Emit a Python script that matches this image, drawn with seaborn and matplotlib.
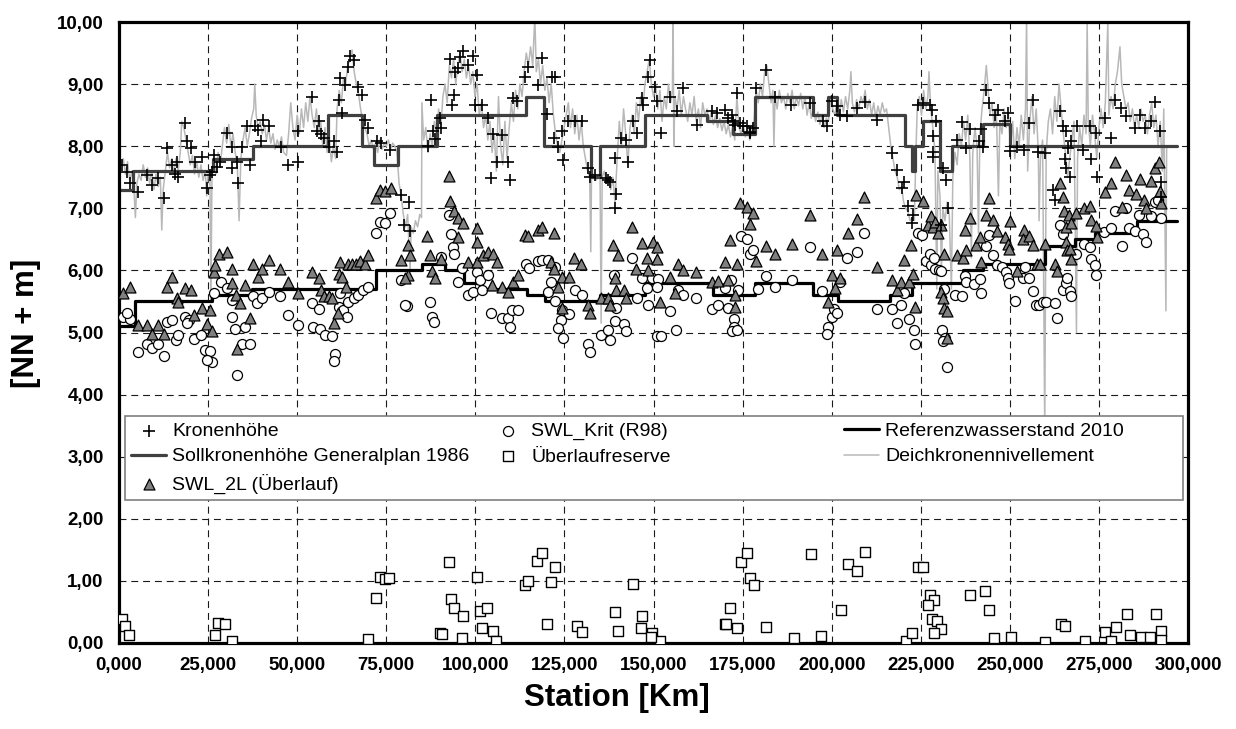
import matplotlib
matplotlib.use("Agg")
import matplotlib.pyplot as plt
import seaborn as sns
import numpy as np
from matplotlib.patches import Rectangle

# ---------------- data ----------------
# Kronenhöhe (+)
krone_km = [0.75, 2.15, 3.09, 5.24, 7.76, 9.17, 11.0, 12.7, 13.4, 14.8, 16.2, 15.7, 16.6, 18.5, 19.0, 20.2,
            21.3, 23.2, 24.6, 25.5, 26.0, 26.7, 27.4, 28.3, 30.2, 31.6, 31.6, 33.0, 33.3, 34.4, 35.8, 36.7,
            38.1, 39.1, 39.8, 40.5, 42.1, 45.6, 47.3, 50.1, 50.1,
            54.1, 55.5, 56.1, 56.7, 57.6, 58.8, 60.2, 61.1, 61.6, 62.7, 62.0, 63.4, 64.4, 64.8, 66.0, 67.2,
            68.1, 69.0, 70.0, 72.3, 73.5, 76.0, 79.1, 81.4, 80.1, 81.7, 86.8, 87.5, 88.2, 88.7, 90.1, 90.5,
            92.9, 93.4, 94.3, 94.1, 95.2, 96.6, 95.7, 98.0, 99.4, 100.4, 99.9,
            101.8, 103.6, 105.0, 107.4, 106.0, 109.3, 104.4, 109.7, 110.7, 111.6, 113.9, 114.9, 117.5, 118.6,
            121.4, 122.3, 120.0, 122.2, 123.1, 124.7, 124.4, 126.1, 128.0, 129.8, 131.7, 132.2, 133.6, 136.8,
            137.2, 137.8, 139.6, 139.2, 139.2, 141.0, 142.4, 142.9, 144.3, 145.5, 146.7, 147.1, 148.5, 149.0,
            150.4, 151.1,
            152.1, 154.6, 156.5, 158.3, 162.1, 166.3, 167.7, 170.0, 171.0, 171.9, 172.4, 172.9, 173.3, 174.2,
            175.2, 176.1, 177.0, 177.1, 178.0, 178.9, 181.7, 184.1, 188.7, 193.9, 197.6, 198.6, 200.0, 201.4,
            202.3, 204.2, 207.0, 209.3, 212.6, 217.0, 218.2, 220.3, 219.6, 221.3, 222.9, 222.6, 224.3, 225.7,
            227.5, 228.2, 229.4, 228.5, 228.5, 228.5, 231.3, 232.0, 232.7, 230.8, 236.6, 238.8, 235.2, 237.8,
            241.3, 241.8, 242.5, 243.2, 244.1, 245.8, 246.7, 248.6, 249.5, 250.0, 251.9,
            253.9, 255.4, 256.4, 257.9, 259.8, 264.0, 264.8, 265.7, 266.4, 265.4, 265.9, 266.8, 267.3, 268.9,
            270.4, 272.4, 272.9, 274.1, 274.5, 276.6, 278.5, 279.5, 281.3, 282.7, 285.1, 286.5, 287.9, 289.7,
            290.7, 292.1, 262.2, 262.6, 292.5, 292.5]
krone_val = [7.70, 7.59, 7.40, 7.27, 7.54, 7.37, 7.49, 7.17, 7.97, 7.70, 7.75, 7.56, 7.51, 8.37, 8.08, 7.97,
             7.75, 7.83, 7.33, 7.54, 7.59, 7.86, 7.67, 7.75, 8.21, 7.99, 7.65, 7.75, 7.40, 7.99, 8.32, 7.70,
             8.32, 8.26, 8.09, 8.42, 8.32, 7.99, 7.69, 8.24, 7.75,
             8.80, 8.24, 8.41, 8.19, 8.13, 7.99, 8.08, 7.91, 8.75, 8.53, 9.10, 8.99, 9.28, 9.45, 9.39, 8.96,
             8.83, 8.42, 8.29, 8.08, 8.05, 7.94, 7.21, 7.10, 6.73, 6.63, 8.01, 8.75, 8.24, 8.12, 8.45, 8.30,
             9.40, 8.67, 9.20, 8.83, 9.26, 9.54, 9.43, 9.31, 9.45, 9.15, 8.67,
             8.67, 8.45, 8.19, 8.18, 7.75, 7.75, 7.48, 7.46, 8.77, 8.73, 9.12, 9.27, 8.98, 9.42,
             9.12, 9.11, 8.52, 8.13, 7.99, 7.78, 8.24, 8.41, 8.41, 8.40, 7.65, 7.51, 7.54, 7.49,
             7.46, 7.43, 7.23, 7.01, 7.81, 8.13, 8.10, 7.75, 8.41, 8.21, 8.77, 8.67, 9.12, 9.39,
             8.96, 8.73,
             8.21, 8.80, 8.56, 8.94, 8.34, 8.56, 8.53, 8.59, 8.45, 8.51, 8.40, 8.34, 8.85, 8.37,
             8.32, 8.33, 8.21, 8.23, 8.29, 8.94, 9.23, 8.80, 8.67, 8.69, 8.41, 8.32, 8.72, 8.64,
             8.51, 8.48, 8.61, 8.71, 8.42, 7.89, 7.62, 7.43, 7.33, 7.03, 6.89, 6.76, 8.67, 8.69,
             8.67, 8.59, 8.40, 8.16, 7.91, 7.83, 7.65, 7.45, 7.00, 6.73, 8.39, 8.27, 8.10, 7.97,
             8.08, 8.27, 7.98, 8.91, 8.69, 8.51, 8.59, 8.41, 8.53, 7.92, 7.99,
             7.94, 8.37, 8.75, 7.91, 7.89, 8.57, 8.32, 8.24, 7.97, 7.80, 7.65, 7.51, 8.09, 8.32,
             7.94, 8.32, 7.80, 8.21, 7.51, 8.45, 8.14, 8.75, 8.61, 8.48, 8.29, 8.51, 8.29, 8.41,
             8.71, 8.24, 7.30, 7.13, 7.43, 7.19]

# SWL_Krit (R98) (o)
krit_km = [1.2, 3.1, 2.2, 5.2, 7.8, 9.2, 11.0, 12.7, 13.4, 14.8, 15.9, 16.6, 18.5, 19.6, 19.0, 21.1, 23.0,
           24.1, 25.5, 26.0, 24.6, 26.7, 28.6, 30.2, 31.6, 31.6, 32.5, 34.4, 35.3, 36.7, 33.0, 37.7, 38.6,
           40.0, 42.1, 45.2, 47.3, 50.1,
           54.5, 56.4, 57.8, 59.7, 60.6, 60.2, 54.1, 56.1, 62.0, 61.6, 63.0, 63.9, 64.4, 66.0, 67.2, 68.6,
           70.0, 72.0, 73.2, 74.6, 76.0, 79.1, 80.7, 80.4, 87.3, 87.7, 88.5, 90.4, 92.6, 93.2, 93.8, 94.1,
           95.2, 96.3, 98.0, 99.4,
           100.4, 101.3, 102.0, 103.6, 104.4, 107.4, 109.1, 109.7, 110.4, 111.9, 114.1, 115.0, 117.5, 118.6,
           120.3, 122.3, 121.2, 120.3, 122.3, 124.4, 126.3, 124.0, 123.3, 124.7, 128.0, 129.8, 131.7, 132.2,
           135.4, 137.3, 137.8, 139.2, 139.6, 141.8, 142.4, 139.0, 144.0, 145.5, 146.7, 148.1, 148.5, 149.5,
           151.1,
           151.3, 150.9, 152.1, 154.6, 156.2, 156.9, 158.3, 161.8, 166.5, 168.0, 170.2, 170.8, 171.7, 172.7,
           172.7, 172.1, 173.3, 173.6, 174.5, 176.1, 177.0, 178.0, 179.2, 181.7, 184.2, 188.9, 193.9, 197.3,
           199.0, 198.8, 200.0, 200.7, 201.6,
           202.3, 204.2, 207.0, 209.1, 212.6, 217.0, 218.2, 219.4, 220.3, 221.7, 223.2, 223.3, 224.1, 225.4,
           226.6, 227.5, 228.0, 228.8, 228.9, 230.1, 230.8, 231.6, 231.0, 231.8, 231.3, 232.5, 234.7, 236.7,
           237.4, 237.8, 240.0, 241.6, 242.0, 243.4, 244.1, 245.3, 246.5, 247.7, 248.8, 249.5, 249.7, 251.4,
           253.6, 255.4, 254.2, 256.4, 257.3, 258.2, 259.4, 260.1, 262.6, 263.1, 264.0, 264.8, 265.0, 265.7,
           266.1, 266.8, 267.3, 268.7, 270.8, 272.4, 272.9, 273.8, 274.3, 276.4, 278.5, 279.5, 281.6, 282.7,
           283.5, 285.1, 286.3, 287.4, 288.3, 289.7, 290.7, 291.6, 292.3]
krit_val = [5.25, 5.22, 5.31, 4.69, 4.82, 4.75, 4.82, 4.62, 5.17, 5.20, 4.88, 4.96, 5.25, 5.20, 5.15, 4.90, 4.96,
            4.72, 4.70, 4.53, 4.55, 5.63, 5.82, 5.72, 5.52, 5.25, 5.06, 4.82, 5.09, 4.82, 4.32, 5.58, 5.47,
            5.55, 5.65, 5.59, 5.28, 5.12,
            5.09, 5.06, 4.96, 4.95, 4.65, 4.54, 5.47, 5.38, 5.63, 5.41, 5.36, 5.25, 5.49, 5.55, 5.60, 5.68,
            5.74, 6.60, 6.78, 6.77, 6.92, 5.84, 5.43, 5.45, 5.49, 5.25, 5.17, 6.22, 6.90, 6.58, 6.38, 6.26,
            5.82, 6.04, 5.60, 5.66,
            5.98, 5.84, 5.68, 5.92, 5.32, 5.23, 5.23, 5.09, 5.36, 5.36, 6.11, 6.04, 6.15, 6.17,
            6.17, 6.06, 5.82, 5.65, 5.51, 5.36, 5.29, 5.20, 5.08, 4.91, 5.68, 5.60, 4.82, 4.68,
            4.96, 5.04, 4.88, 5.18, 5.39, 5.13, 5.02, 5.92, 6.20, 5.55, 5.87, 5.71, 5.44, 5.87,
            4.95,
            5.86, 5.74, 4.95, 5.34, 5.04, 5.68, 5.60, 5.56, 5.38, 5.45, 5.71, 5.40, 5.84, 5.22,
            5.09, 5.02, 5.04, 5.68, 6.56, 6.51, 6.26, 6.33, 5.70, 5.91, 5.74, 5.84, 6.38, 5.67,
            5.09, 4.98, 5.25, 5.38, 5.31,
            5.82, 6.20, 6.30, 6.61, 5.38, 5.38, 5.15, 5.45, 5.63, 5.22, 5.04, 4.82, 6.61, 6.57,
            6.15, 6.27, 6.09, 6.20, 6.03, 6.01, 5.99, 5.70, 5.04, 4.91, 4.86, 4.45, 5.60, 5.58,
            5.91, 5.82, 5.78, 5.86, 5.63, 6.40, 6.57, 6.25, 6.09, 6.06, 5.98, 5.87, 5.79, 5.51,
            5.87, 5.87, 6.06, 5.67, 5.45, 5.45, 5.49, 5.49, 5.47, 5.24, 6.73, 6.58, 5.68, 5.79,
            5.87, 5.67, 5.58, 6.26, 6.42, 6.37, 6.19, 6.08, 5.92, 6.62, 6.68, 6.95, 6.40, 7.00,
            6.68, 6.63, 6.89, 6.59, 6.46, 6.87, 7.10, 7.14, 6.85]

# SWL_2L (Überlauf) (triangles)
swl2l_km = [1.2, 3.1, 5.2, 7.8, 9.2, 11.0, 12.7, 13.4, 14.8, 16.2, 16.6, 18.5, 20.2, 21.1, 23.4, 24.6, 25.5,
            26.0, 26.7, 26.9, 28.1, 30.2, 31.6, 31.6, 32.7, 34.0, 35.3, 36.7, 33.0, 37.7, 38.9, 40.0, 42.1,
            45.2, 47.3, 50.1,
            54.1, 56.1, 56.7, 57.6, 58.8, 59.7, 60.4, 61.4, 61.6, 62.7, 63.6, 62.0, 64.4, 65.5, 66.4, 67.6,
            69.0, 70.0, 72.0, 73.2, 74.6, 76.3, 79.1, 81.2, 81.7, 81.0, 80.4, 86.3, 87.3, 87.9, 88.7, 90.5,
            92.6, 92.9, 94.1, 95.2, 96.6, 95.2, 98.0, 100.4, 100.6,
            100.4, 102.2, 103.6, 105.0, 106.0, 104.6, 107.4, 109.3, 110.7, 112.1, 113.9, 114.9, 117.7, 118.6,
            122.2, 121.2, 122.2, 124.4, 126.3, 123.3, 124.4, 127.8, 129.6, 131.7, 132.2, 135.2, 137.3, 137.8,
            139.2, 139.6, 141.8, 142.4, 138.7, 139.9, 144.0, 145.2, 146.7, 148.3, 148.5, 149.9, 150.9, 151.1,
            151.8, 154.6, 156.8, 158.3, 161.8, 156.0, 166.3, 168.0, 170.2, 170.8, 171.4, 172.8, 172.8, 173.3,
            174.2, 176.1, 178.0, 177.0, 178.9, 181.7, 184.2, 188.9, 193.9, 197.2, 200.0, 199.0, 200.9, 201.6,
            202.3, 204.5, 207.0, 209.1, 212.6, 217.0, 218.2, 219.4, 220.3, 221.7, 222.9, 223.3, 222.4, 223.8,
            225.7, 227.1, 228.0, 228.5, 228.9, 229.9, 230.8, 231.6, 230.8, 231.3, 231.6, 232.5, 232.5, 235.2,
            236.9, 237.8, 237.4, 238.8, 240.6, 242.0, 241.6, 243.2, 244.1, 245.3, 246.5, 248.6, 249.5, 250.0,
            249.7, 251.9,
            253.9, 253.6, 255.4, 256.4, 257.5, 258.6, 259.8, 262.6, 263.1, 264.0, 264.8, 265.1, 265.9, 266.6,
            267.3, 265.7, 266.1, 266.8, 267.3, 268.7, 270.8, 272.4, 272.9, 274.1, 274.5, 276.6, 278.5, 279.5,
            281.6, 282.7, 283.5, 285.3, 286.5, 287.6, 288.3, 289.7, 290.7, 291.9, 292.1, 292.3]
swl2l_val = [5.63, 5.74, 5.12, 5.12, 4.98, 5.12, 4.97, 5.74, 5.90, 5.55, 5.49, 5.71, 5.68, 5.28, 5.39, 5.13, 5.36,
             5.02, 5.98, 6.09, 6.27, 6.30, 6.02, 5.79, 5.60, 5.47, 5.77, 5.24, 4.74, 6.11, 5.90, 6.03, 6.17,
             6.03, 5.81, 5.63,
             5.98, 5.87, 5.68, 5.58, 5.58, 5.55, 5.15, 5.31, 5.95, 5.90, 5.74, 6.14, 6.11, 6.10, 6.11, 6.15,
             6.11, 6.24, 7.16, 7.30, 7.28, 7.33, 6.17, 6.41, 6.24, 5.92, 5.88, 6.56, 6.25, 5.99, 5.87, 6.19,
             7.52, 7.12, 6.95, 6.84, 6.77, 6.54, 6.14, 6.68, 6.46,
             6.14, 6.25, 6.30, 6.27, 6.14, 5.77, 5.74, 5.66, 5.82, 5.92, 6.57, 6.55, 6.65, 6.70,
             6.60, 6.14, 6.02, 5.90, 5.90, 5.74, 5.40, 6.20, 6.11, 5.44, 5.31, 5.56, 5.55, 5.44,
             5.87, 5.68, 5.68, 5.55, 6.41, 6.24, 6.70, 6.03, 6.44, 6.20, 6.01, 6.46, 6.19, 6.37,
             5.49, 5.90, 6.11, 6.01, 5.98, 5.63, 5.82, 5.83, 6.14, 5.84, 6.49, 5.60, 5.41, 6.10,
             7.08, 7.02, 6.92, 6.74, 6.15, 6.40, 6.27, 6.42, 6.90, 6.27, 5.92, 5.49, 5.71, 6.33,
             5.87, 6.60, 6.83, 7.19, 6.06, 5.84, 5.68, 5.82, 6.17, 5.82, 5.95, 5.41, 6.41, 7.22,
             7.12, 6.73, 6.87, 6.70, 6.78, 6.60, 6.73, 6.27, 5.65, 5.56, 5.40, 5.34, 4.91, 6.25,
             6.20, 6.33, 6.65, 6.85, 6.41, 6.14, 6.54, 6.90, 7.17, 6.81, 6.63, 6.53, 6.42, 6.79,
             6.35, 5.99,
             6.65, 6.51, 6.56, 6.41, 6.11, 6.11, 6.42, 6.11, 5.99, 7.40, 7.19, 6.95, 6.70, 6.90,
             6.76, 6.46, 6.33, 6.35, 6.18, 6.93, 7.00, 7.04, 6.81, 6.72, 6.54, 7.26, 7.40, 7.75,
             7.02, 7.54, 7.29, 7.23, 7.47, 7.13, 7.01, 7.44, 7.65, 7.74, 7.28, 7.08]

# Überlaufreserve (squares)
reserve_km = [0.8, 1.8, 2.75, 26.9, 27.9, 29.8, 31.8, 70.0, 72.0, 73.3, 74.7, 75.9, 90.2, 90.7, 92.7, 93.3,
              94.0, 96.5, 96.2, 100.4, 101.4, 103.3, 102.0, 104.9, 105.8, 114.0, 114.9, 117.4, 118.8, 122.3,
              121.1, 120.1, 128.5, 129.8, 139.1, 140.1, 144.3, 146.8, 146.4, 149.7, 151.7, 149.3, 170.0, 170.4,
              171.6, 173.5, 174.5, 176.2, 177.2, 178.2, 181.6, 189.4, 194.2, 197.1, 202.5, 204.5, 207.2, 209.3,
              220.9, 222.6, 224.2, 225.5, 227.5, 228.6, 227.1, 228.1, 229.6, 230.6, 228.6, 238.7, 243.1, 244.1,
              245.5, 250.3, 260.0, 264.4, 265.4, 271.2, 276.8, 278.3, 279.7, 282.8, 283.8, 286.7, 289.4, 290.9,
              292.3, 292.5]
reserve_val = [0.38, 0.28, 0.135, 0.135, 0.32, 0.31, 0.03, 0.065, 0.73, 1.07, 1.03, 1.04, 0.16, 0.15, 1.30, 0.71,
               0.57, 0.43, 0.08, 1.07, 0.51, 0.57, 0.24, 0.19, 0.04, 0.93, 1.00, 1.32, 1.45, 1.22,
               0.98, 0.31, 0.28, 0.17, 0.50, 0.20, 0.95, 0.43, 0.24, 0.16, 0.03, 0.10, 0.31, 0.30,
               0.57, 0.24, 1.31, 1.45, 1.04, 0.93, 0.26, 0.08, 1.43, 0.12, 0.53, 1.27, 1.16, 1.46,
               0.03, 0.16, 1.23, 1.23, 0.77, 0.69, 0.61, 0.38, 0.36, 0.22, 0.16, 0.77, 0.84, 0.53,
               0.08, 0.10, 0.01, 0.30, 0.27, 0.03, 0.17, 0.03, 0.26, 0.47, 0.135, 0.10, 0.10, 0.47,
               0.19, 0.05]

# Sollkronenhöhe Generalplan 1986 (step starts)
soll_km = [0, 3.9, 26.4, 37.6, 58.7, 68.2, 71.6, 78.3, 89.2, 114.2, 119.3, 132.5, 135.0, 147.6, 165.0,
           172.3, 178.5, 194.8, 199.0, 201.5, 220.6, 222.6, 223.5, 225.7, 230.5, 233.8, 242.5, 250.0, 296.9]
soll_val = [7.3, 7.6, 7.8, 8.0, 8.5, 8.0, 7.7, 8.0, 8.5, 8.8, 8.0, 7.5, 8.0, 8.5, 8.4,
            8.2, 8.8, 8.5, 8.8, 8.5, 8.0, 7.6, 8.0, 8.4, 7.6, 8.0, 8.35, 8.0, 8.0]

# Referenzwasserstand 2010 (step starts)
ref_km = [0, 4.5, 26.0, 37.3, 72.0, 85.1, 91.6, 96.7, 101.6, 114.5, 119.6, 135.0, 147.6, 166.7, 178.5,
          194.8, 201.8, 216.4, 222.6, 236.9, 242.5, 259.9, 268.3, 273.9, 285.7, 296.9]
ref_val = [5.1, 5.5, 5.6, 5.7, 6.0, 6.1, 6.0, 5.8, 5.7, 5.6, 5.5, 5.6, 5.8, 5.6, 5.8,
           5.6, 5.5, 5.6, 5.8, 6.0, 6.1, 6.4, 6.5, 6.6, 6.8, 6.8]

# Deichkronennivellement (thin grey line)
deich_km = [0.0, 0.6, 1.2, 1.8, 2.4, 3.0, 3.6, 4.2, 4.6, 5.0, 5.6, 6.2, 6.8, 7.4, 8.0, 8.6, 9.2, 9.8, 10.4,
            11.0, 11.6, 12.0, 12.4, 13.0, 13.6, 14.2, 14.8, 15.4, 16.0, 16.6, 17.2, 17.6, 18.2, 18.8, 19.4,
            20.0, 20.6, 21.2, 21.8, 22.4, 23.0, 23.6, 24.2, 24.6, 25.0, 25.5, 25.8, 26.1, 26.6, 27.2, 27.8,
            28.4, 29.0, 29.6, 30.2, 30.8, 31.4, 32.0, 32.6, 33.2, 33.7, 34.2, 34.8, 35.4, 36.0, 36.6, 37.2,
            37.8, 38.1, 38.5, 39.0, 39.6, 40.2, 40.8, 41.4, 42.0, 42.6, 43.2, 43.8, 44.4, 45.0, 45.6, 46.2,
            47.0, 47.6, 48.2, 48.8, 49.4, 50.0, 50.6, 51.2, 51.8, 52.4, 53.0, 53.6, 54.2, 54.8, 55.4, 56.0,
            56.6, 57.2, 57.8, 58.4, 59.0, 59.6, 60.2, 60.8, 61.2, 61.8, 62.4, 63.0, 63.6, 64.2, 64.8, 65.4,
            66.0, 66.6, 67.2, 67.8, 68.4, 69.0, 69.6, 70.2, 70.8, 71.4, 72.0, 72.6, 73.2, 73.8, 74.4, 75.0,
            75.6, 76.2, 76.8, 77.4, 78.0, 78.6, 79.2, 79.8, 80.4, 81.0, 81.7, 82.0, 82.6, 83.2, 83.8, 84.4,
            84.9, 85.0, 85.5, 86.1, 86.7, 87.3, 87.9, 88.5, 89.1, 89.7, 90.3, 90.9, 91.5, 92.1, 92.7, 93.3,
            93.9, 94.5, 95.1, 95.7, 96.3, 96.9, 97.5, 98.1, 98.7, 99.3, 99.9, 100.5, 101.1, 101.7, 102.3,
            102.9, 103.5, 104.1, 104.7, 105.3, 105.9, 106.5, 107.1, 107.7, 108.3, 108.9, 109.5, 110.1, 110.7,
            111.3, 111.9, 112.5, 113.1, 113.7, 114.3, 114.9, 115.5, 116.1, 116.7, 117.1, 117.7, 118.3, 118.9,
            119.5, 120.1, 120.7, 121.3, 121.9, 122.5, 123.1, 123.7, 124.3, 124.9, 125.5, 126.1, 126.7, 127.3,
            127.9, 128.5, 129.1, 129.7, 130.3, 130.9, 131.5, 132.1, 132.4, 132.6, 133.2, 133.8, 134.4, 135.0,
            135.3, 135.6, 136.2, 136.8, 137.4, 138.0, 138.6, 139.2, 139.8, 140.4, 141.0, 141.6, 142.2, 142.8,
            143.4, 144.0, 144.6, 145.2, 145.8, 146.4, 147.0, 147.6, 148.2, 148.8, 149.4, 150.0, 150.6, 151.2,
            151.8, 152.4, 153.0, 153.6, 154.2, 154.8, 155.3, 155.5, 155.7, 156.0, 156.6, 157.2, 157.8, 158.4,
            159.0, 159.6, 160.2, 160.8, 161.4, 162.0, 162.6, 163.2, 163.8, 164.4, 165.0, 165.6, 166.2, 166.8,
            167.4, 168.0, 168.6, 169.2, 169.8, 170.4, 171.0, 171.6, 172.2, 172.8, 173.4, 174.0, 174.6, 175.2,
            175.8, 176.4, 177.0, 177.6, 178.2, 178.8, 179.4, 180.0, 180.6, 181.2, 181.8, 182.4, 183.0, 183.5,
            183.8, 184.1, 184.7, 185.3, 185.9, 186.5, 187.1, 187.7, 188.3, 188.9, 189.5, 190.1, 190.7, 191.3,
            191.9, 192.5, 193.1, 193.7, 194.3, 194.9, 195.5, 196.1, 196.7, 197.3, 197.9, 198.5, 199.1, 199.7,
            200.3, 200.9, 201.5, 202.1, 202.7, 203.3, 203.9, 204.5, 205.1, 205.4, 205.8, 206.4, 207.0, 207.6,
            208.2, 208.8, 209.4, 210.0, 210.6, 211.2, 211.8, 212.4, 213.0, 213.6, 214.2, 214.8, 215.4, 216.0,
            216.6, 217.2, 217.8, 218.4, 219.0, 219.6, 220.2, 220.8, 221.4, 222.0, 222.6, 223.2, 223.6, 224.0,
            224.6, 225.2, 225.8, 226.4, 227.0, 227.3, 227.8, 228.4, 229.0, 229.5, 229.8, 230.4, 230.8, 231.2,
            231.8, 232.4, 233.0, 233.6, 234.0, 234.6, 235.2, 235.8, 236.4, 237.0, 237.6, 238.2, 238.8, 239.2,
            239.6, 240.2, 240.8, 241.2, 241.6, 242.2, 242.8, 243.4, 243.8, 244.4, 245.0, 245.6, 246.2, 246.8,
            247.2, 247.8, 248.4, 249.0, 249.6, 250.2, 250.8, 251.4, 252.0, 252.6, 253.2, 253.8, 254.4, 254.7,
            255.0, 255.6, 256.2, 256.8, 257.4, 258.0, 258.2, 258.6, 259.2, 259.8, 260.2, 260.8, 261.4, 262.0,
            262.6, 263.2, 263.8, 264.4, 265.0, 265.6, 266.2, 266.8, 267.4, 268.0, 268.7, 269.0, 269.6, 270.2,
            270.8, 271.4, 271.7, 272.0, 272.6, 273.2, 273.8, 274.4, 275.0, 275.6, 276.2, 276.8, 277.5, 277.8,
            278.4, 279.0, 279.6, 280.2, 280.9, 281.4, 282.0, 282.6, 283.2, 283.8, 284.4, 285.0, 285.6, 286.2,
            286.8, 287.4, 288.0, 288.6, 289.2, 289.8, 290.4, 291.0, 291.6, 292.2, 292.8, 293.2, 293.8, 294.0]
deich_val = [7.85, 7.7, 7.8, 7.55, 7.75, 7.45, 7.6, 7.3, 6.85, 7.4, 7.55, 7.45, 7.7, 7.5, 7.65, 7.4, 7.6, 7.3, 7.55,
             7.35, 7.5, 6.65, 7.3, 7.6, 7.9, 7.65, 7.8, 7.55, 7.8, 7.6, 7.9, 8.4, 8.3, 8.1, 7.9,
             7.7, 7.85, 7.55, 7.75, 7.5, 7.7, 7.45, 7.6, 7.2, 7.55, 7.6, 5.5, 7.6, 7.8, 7.55, 7.9,
             7.7, 8.0, 8.3, 8.05, 8.35, 8.0, 8.2, 7.9, 7.7, 6.8, 7.8, 8.1, 8.3, 8.0, 8.2, 8.45,
             8.6, 9.0, 8.5, 8.3, 8.4, 8.2, 8.35, 8.1, 8.3, 8.05, 8.2, 7.95, 8.1, 8.0, 8.15, 7.9,
             7.85, 8.2, 8.7, 8.3, 8.1, 8.5, 8.2, 8.6, 8.3, 8.7, 8.4, 8.8, 8.5, 8.3, 8.6, 8.2,
             8.4, 8.0, 8.3, 7.9, 8.1, 7.75, 8.0, 7.8, 8.6, 8.9, 8.7, 9.1, 9.0, 9.3, 9.4, 9.55,
             9.2, 9.0, 8.85, 8.6, 8.4, 8.3, 8.2, 8.0, 8.1, 7.95, 8.05, 7.9, 8.1, 7.95, 8.05, 8.0,
             8.1, 7.95, 8.05, 8.0, 7.9, 7.4, 7.2, 6.9, 6.7, 6.9, 6.0, 6.7, 6.6, 6.8, 6.7, 6.9,
             6.85, 8.7, 8.1, 8.3, 7.9, 8.2, 8.0, 8.4, 8.2, 8.6, 8.3, 8.8, 9.0, 8.7, 9.3, 9.1,
             9.4, 9.0, 9.3, 9.5, 9.2, 9.4, 9.1, 9.3, 9.0, 9.2, 8.8, 9.0, 8.5, 8.7, 8.3,
             8.5, 8.1, 8.4, 7.9, 8.2, 7.6, 8.8, 8.0, 7.7, 8.4, 7.8, 8.3, 8.7, 8.4,
             8.9, 8.6, 9.0, 8.8, 9.2, 9.5, 9.3, 9.6, 9.3, 10.1, 9.2, 9.4, 9.0, 9.3,
             8.9, 9.1, 8.7, 9.0, 8.5, 8.2, 8.0, 7.9, 8.1, 8.3, 8.5, 8.7, 8.3, 8.6,
             8.2, 8.5, 8.1, 8.4, 8.0, 7.8, 7.6, 7.5, 6.3, 7.5, 7.55, 7.45, 7.5, 7.55,
             5.15, 7.5, 7.6, 7.4, 7.5, 7.3, 7.5, 7.1, 7.8, 8.4, 8.0, 8.6, 8.2, 7.7,
             8.3, 8.5, 8.2, 8.7, 8.4, 8.8, 8.6, 9.0, 9.2, 9.4, 9.0, 8.8, 9.0, 8.6,
             8.9, 8.4, 8.8, 8.6, 9.0, 8.7, 8.9, 10.1, 8.0, 8.8, 8.6, 8.9, 8.5, 8.8,
             8.6, 8.4, 8.7, 8.5, 8.8, 8.4, 8.6, 8.3, 8.7, 8.5, 8.6, 8.4, 8.55, 8.35,
             8.5, 8.3, 8.45, 8.25, 8.4, 8.2, 8.35, 8.15, 8.3, 8.1, 8.8, 8.3, 8.2, 8.35,
             8.15, 8.3, 8.1, 8.25, 8.4, 8.9, 8.7, 9.0, 8.8, 9.2, 9.3, 9.0, 8.7, 8.9,
             8.0, 8.8, 8.6, 8.9, 8.7, 8.8, 8.6, 8.85, 8.7, 8.9, 8.6, 8.8, 8.65, 8.85,
             8.6, 8.8, 8.5, 8.7, 8.45, 8.6, 8.4, 8.55, 8.35, 8.5, 8.3, 8.45, 8.4, 8.8,
             8.6, 8.5, 8.7, 8.5, 8.75, 8.55, 8.8, 8.6, 8.9, 9.2, 8.7, 8.55, 8.75, 8.6,
             8.8, 8.7, 8.9, 8.6, 8.75, 8.5, 8.7, 8.45, 8.65, 8.5, 8.7, 8.55, 8.6, 8.3,
             8.0, 7.8, 7.6, 7.5, 7.3, 7.35, 7.1, 7.0, 6.95, 6.8, 6.85, 6.8, 7.8, 8.6,
             8.8, 8.5, 8.9, 8.6, 8.8, 9.2, 8.6, 8.3, 7.9, 5.7, 7.6, 7.2, 6.0, 7.0,
             6.8, 7.1, 6.9, 5.7, 7.5, 7.9, 7.7, 8.2, 8.0, 8.4, 8.1, 8.5, 7.8, 6.2,
             7.9, 8.3, 8.0, 6.6, 8.2, 8.6, 8.9, 9.3, 9.0, 8.5, 8.7, 8.3, 8.6, 7.2,
             8.4, 8.2, 8.6, 8.3, 8.5, 8.0, 8.4, 7.8, 8.3, 8.0, 8.5, 8.1, 8.6, 10.1,
             7.6, 8.4, 8.8, 8.2, 8.6, 7.9, 6.8, 7.8, 8.1, 3.4, 7.9, 8.4, 8.6, 8.2,
             8.8, 8.4, 9.0, 8.6, 8.2, 7.9, 7.5, 7.8, 8.1, 8.4, 5.0, 7.8, 8.3, 8.0,
             8.5, 8.2, 10.0, 8.4, 8.0, 8.5, 8.2, 7.8, 8.3, 8.6, 8.3, 8.7, 10.0, 8.5,
             8.8, 8.6, 9.0, 9.2, 9.6, 9.0, 8.8, 8.6, 8.7, 8.4, 8.6, 8.3, 8.5, 8.3,
             8.6, 8.4, 8.5, 8.2, 8.5, 8.7, 8.3, 8.5, 8.0, 8.4, 7.6, 8.6, 5.35, 8.0]

x_ticks = [0, 25, 50, 75, 100, 125, 150, 175, 200, 225, 250, 275, 300]
y_ticks = [0, 1, 2, 3, 4, 5, 6, 7, 8, 9, 10]
x_tick_labels = ["0,000", "25,000", "50,000", "75,000", "100,000", "125,000", "150,000",
                 "175,000", "200,000", "225,000", "250,000", "275,000", "300,000"]
y_tick_labels = ["0,00", "1,00", "2,00", "3,00", "4,00", "5,00", "6,00", "7,00", "8,00", "9,00", "10,00"]

# ---------------- style ----------------
sns.set_theme(style="white")
plt.rcParams['font.family'] = ['Liberation Sans', 'DejaVu Sans']
plt.rcParams['lines.scale_dashes'] = False

W, H = 1236, 729
fig = plt.figure(figsize=(W / 100, H / 100), dpi=100)
L, R, T, B = 119, 1188, 22, 643
ax = fig.add_axes([L / W, 1 - B / H, (R - L) / W, (B - T) / H])

lab_krone = "Kronenhöhe"
lab_soll = "Sollkronenhöhe Generalplan 1986"
lab_2l = "SWL_2L (Überlauf)"
lab_krit = "SWL_Krit (R98)"
lab_res = "Überlaufreserve"
lab_ref = "Referenzwasserstand 2010"
lab_deich = "Deichkronennivellement"

sns.lineplot(x=deich_km, y=deich_val, ax=ax, color="#b8b8b8", linewidth=1.1,
             estimator=None, sort=False, label=lab_deich, zorder=1)
sns.lineplot(x=soll_km, y=soll_val, ax=ax, color="#404040", linewidth=2.3, drawstyle="steps-post",
             estimator=None, sort=False, label=lab_soll, zorder=2)
sns.lineplot(x=ref_km, y=ref_val, ax=ax, color="black", linewidth=2.3, drawstyle="steps-post",
             estimator=None, sort=False, label=lab_ref, zorder=2)
sns.scatterplot(x=krit_km, y=krit_val, ax=ax, marker="o", s=52, color="white",
                edgecolor="black", linewidth=0.9, label=lab_krit, zorder=3)
sns.scatterplot(x=swl2l_km, y=swl2l_val, ax=ax, marker="^", s=62, color="#808080",
                edgecolor="black", linewidth=0.9, label=lab_2l, zorder=4)
sns.scatterplot(x=krone_km, y=krone_val, ax=ax, marker="+", s=66, color="black",
                linewidth=1.2, label=lab_krone, zorder=5)
sns.scatterplot(x=reserve_km, y=reserve_val, ax=ax, marker="s", s=48, color="white",
                edgecolor="black", linewidth=1.0, label=lab_res, zorder=5)

ax.set_xlim(0, 300)
ax.set_ylim(0, 10)
ax.set_xticks(x_ticks)
ax.set_xticklabels(x_tick_labels)
ax.set_yticks(y_ticks)
ax.set_yticklabels(y_tick_labels)
for lbl in ax.get_xticklabels() + ax.get_yticklabels():
    lbl.set_fontweight("bold")
ax.tick_params(axis="both", direction="out", length=4, width=1.2, color="black",
               labelsize=13.5, labelcolor="black")
ax.tick_params(axis="y", pad=7)
ax.tick_params(axis="x", pad=6)

ax.set_axisbelow(True)
ax.grid(True, color="#1a1a1a", linewidth=0.8, linestyle=(0, (5, 3.5)))
for sp in ax.spines.values():
    sp.set_visible(True)
    sp.set_color("black")
    sp.set_linewidth(2.3)

ax.set_xlabel("Station [Km]", fontsize=22.5, fontweight="bold", color="black")
ax.set_ylabel("[NN + m]", fontsize=22.5, fontweight="bold", color="black")
ax.xaxis.set_label_coords((617 - L) / (R - L), -0.064)
ax.yaxis.set_label_coords((41 - L) / (R - L), 0.515)

# ---------------- legend ----------------
handles, labels = ax.get_legend_handles_labels()
hmap = dict(zip(labels, handles))
if ax.get_legend() is not None:
    ax.get_legend().remove()

def axx(px):
    return (px - L) / (R - L)

def axy(py):
    return (B - py) / (B - T)

box = Rectangle((axx(125), axy(500)), axx(1183) - axx(125), axy(416) - axy(500),
                transform=ax.transAxes, facecolor="white", edgecolor="#7f7f7f",
                linewidth=1.2, zorder=6)
ax.add_patch(box)

cols = [
    ([lab_krone, lab_soll, lab_2l], 131),
    ([lab_krit, lab_res], 490),
    ([lab_ref, lab_deich], 844),
]
legs = []
for labs, px in cols:
    leg = ax.legend([hmap[l] for l in labs], labs, loc="upper left",
                    bbox_to_anchor=(axx(px), axy(422)), bbox_transform=ax.transAxes,
                    frameon=False, fontsize=14, borderpad=0, borderaxespad=0,
                    handlelength=1.8, handletextpad=0.33, labelspacing=0.42)
    leg.set_zorder(7)
    for t in leg.get_texts():
        t.set_color("black")
    legs.append(leg)
for leg in legs[:-1]:
    ax.add_artist(leg)

fig.savefig("out.png", dpi=100)
